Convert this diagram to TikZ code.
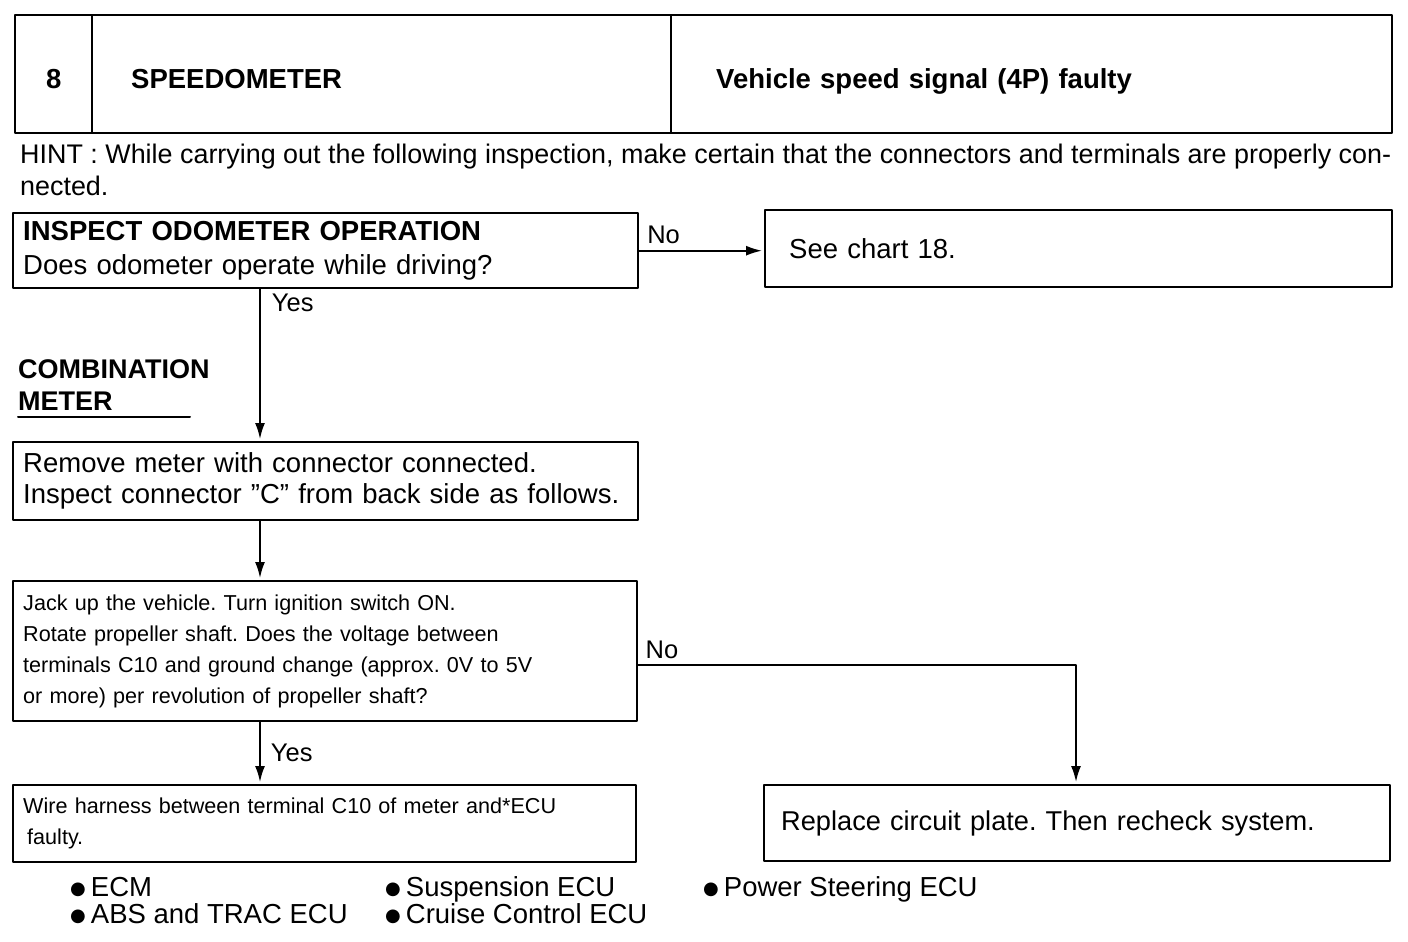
\documentclass[tikz,border=0pt]{standalone}
\usepackage{fontspec}
\setmainfont{Liberation Sans}
\newfontfamily\dejavu{DejaVu Sans}
\usetikzlibrary{arrows.meta}
\newcommand{\ecubullet}{\raisebox{2pt}{\dejavu\fontsize{18}{18}\selectfont ●}\hspace{5pt}}
\frenchspacing
\begin{document}
\begin{tikzpicture}[line cap=round, line join=round, x=1pt, y=-1pt, >={Latex[length=16pt,width=10pt]}]
	\tikzset{big/.style={font=\fontsize{27.5}{34}\selectfont},
		small/.style={font=\fontsize{21.6}{31}\selectfont},
		lbl/.style={font=\fontsize{25.5}{30}\selectfont},
		box/.style={draw, line width=2.4pt, anchor=north west, align=left, inner xsep=10pt, inner ysep=0pt, big},
		head/.style={box, text height=28pt, text depth=0pt, minimum height=118pt},
		link/.style={line width=1.8pt, shorten >=2pt}}
	\useasboundingbox (0,0) rectangle (1408,942);
	% header
	\node[head, align=center, text width=57pt] (num) at (14,14) {\textbf{8}};
	\node[head, inner xsep=39pt, text width=501pt] (title) at (91,14) {\textbf{SPEEDOMETER}};
	\node[head, inner xsep=45pt, text width=631pt] (fault) at (670,14) {\textbf{Vehicle speed signal (4P) faulty}};
	\node[anchor=base west, align=left, inner sep=0pt, font=\fontsize{26.9}{32}\selectfont] (hint) at (20,195)
		{HINT : While carrying out the following inspection, make certain that the connectors and terminals are properly con-\\nected.};
	% steps
	\node[box, text width=605pt, minimum height=75pt] (odo) at (12,212)
		{\textbf{INSPECT ODOMETER OPERATION}\\Does odometer operate while driving?};
	\node[box, inner xsep=24pt, text width=579pt, minimum height=77pt] (chart) at (764,209) {See chart 18.};
	\node[anchor=base west, inner sep=0pt, align=left, font=\fontsize{27}{32}\selectfont] (comb) at (18,410) {\textbf{COMBINATION}\\\textbf{METER}};
	\draw[line width=2pt] (comb.south west |- 0,417) -- (190,417);
	\node[box, font=\fontsize{27.5}{31}\selectfont, text width=605pt, minimum height=78pt] (meter) at (12,441)
		{Remove meter with connector connected.\\Inspect connector ”C” from back side as follows.\par\vspace*{8pt}};
	\node[box, small, text width=604pt, minimum height=140pt] (volt) at (12,580)
		{Jack up the vehicle. Turn ignition switch ON.\\Rotate propeller shaft. Does the voltage between\\terminals C10 and ground change (approx. 0V to 5V\\or more) per revolution of propeller shaft?\par\vspace*{12pt}};
	\node[box, small, text width=603pt, minimum height=77pt] (harness) at (12,784)
		{Wire harness between terminal C10 of meter and*ECU\\\hspace*{4pt}faulty.};
	\node[box, font=\fontsize{27.2}{34}\selectfont, inner xsep=17pt, text width=592pt, minimum height=76pt] (plate) at (763,784)
		{Replace circuit plate. Then recheck system.};
	% ECU list
	\node[anchor=base west, inner sep=0pt, align=left, font=\fontsize{27.5}{27}\selectfont] (ecua) at (70,923) {\ecubullet ECM\\\ecubullet ABS and TRAC ECU};
	\node[anchor=base west, inner sep=0pt, align=left, font=\fontsize{27.5}{27}\selectfont] (ecub) at (385,923) {\ecubullet Suspension ECU\\\ecubullet Cruise Control ECU};
	\node[anchor=base west, inner sep=0pt, font=\fontsize{27.5}{27}\selectfont] (ecuc) at (703,896) {\ecubullet Power Steering ECU};
	% connectors
	\coordinate (spine) at (260,0);
	\coordinate (turn) at (1076,665);
	\draw[link, ->] (odo.east) -- (odo.east -| chart.west) node[pos=0, anchor=south west, inner xsep=7pt, inner ysep=6pt, lbl] {No};
	\draw[link, ->] (odo.south -| spine) -- (meter.north -| spine) node[pos=0, anchor=north west, inner xsep=11pt, inner ysep=4pt, lbl] {Yes};
	\draw[link, ->] (meter.south -| spine) -- (volt.north -| spine);
	\draw[link, ->] (volt.south -| spine) -- (harness.north -| spine) node[midway, anchor=west, inner sep=10pt, lbl] {Yes};
	\draw[link, ->] (volt.east |- turn) -- (turn) -- (plate.north -| turn);
	\node[anchor=south west, inner xsep=7pt, inner ysep=6pt, lbl] (nolbl) at (volt.east |- turn) {No};
\end{tikzpicture}
\end{document}
